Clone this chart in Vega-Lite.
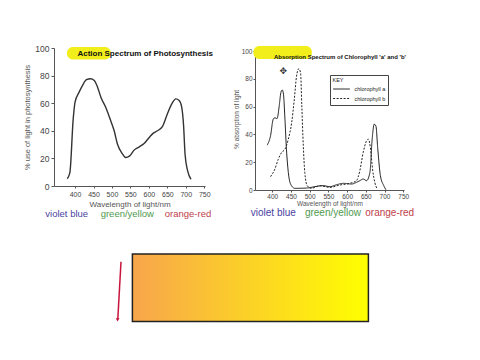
{
 "$schema": "https://vega.github.io/schema/vega-lite/v6.json",
 "background": "white",
 "padding": {"left": 23, "top": 44, "right": 5, "bottom": 5},
 "spacing": 33,
 "resolve": {"legend": {"strokeDash": "independent", "color": "independent"}},
 "config": {
  "view": {"stroke": null},
  "font": "Liberation Sans",
  "axis": {"grid": false, "domainColor": "#555", "tickColor": "#555", "labelColor": "#444", "titleColor": "#555", "titleFontWeight": "normal", "labelFont": "Liberation Sans", "titleFont": "Liberation Sans", "labelOverlap": false, "labelFlush": false}
 },
 "vconcat": [
  {
   "spacing": 20,
   "resolve": {"legend": {"strokeDash": "independent", "color": "independent"}},
   "hconcat": [
    {
     "width": 151, "height": 138,
     "encoding": {
      "x": {"field": "wl", "type": "quantitative", "scale": {"domain": [343, 752], "nice": false, "zero": false},
            "axis": {"values": [400, 450, 500, 550, 600, 650, 700, 750], "title": "Wavelength of light/nm", "labelFontSize": 7, "titleFontSize": 8, "tickSize": 2, "labelPadding": 2.5, "titlePadding": 3, "labelFlush": false}},
      "y": {"field": "pct", "type": "quantitative", "scale": {"domain": [0, 100], "nice": false},
            "axis": {"values": [0, 20, 40, 60, 80, 100], "title": "% use of light in photosynthesis", "labelFontSize": 8.5, "titleFontSize": 7.5, "tickSize": 3, "labelPadding": 2, "titlePadding": 3}}
     },
     "layer": [
      {"data": {"values": [{"wl": 378, "wl2": 497, "pct": 100.7, "pct2": 91.6}]},
       "mark": {"type": "rect", "color": "#f2ee1c", "cornerRadius": 6},
       "encoding": {"x2": {"field": "wl2"}, "y2": {"field": "pct2"}}},
      {"data": {"values": [{"wl": 590, "pct": 95.8, "t": "Action Spectrum of Photosynthesis"}]},
       "mark": {"type": "text", "fontSize": 8, "fontWeight": "bold", "color": "#111", "align": "center", "baseline": "middle"},
       "encoding": {"text": {"field": "t"}}},
      {"data": {"values": [
        {"wl": 379, "pct": 5.3}, {"wl": 386, "pct": 9.7}, {"wl": 395, "pct": 48.5}, {"wl": 400, "pct": 60.7},
        {"wl": 411, "pct": 68}, {"wl": 420, "pct": 72.8}, {"wl": 431, "pct": 77}, {"wl": 442, "pct": 77.7},
        {"wl": 452, "pct": 76.5}, {"wl": 461, "pct": 71.6}, {"wl": 470, "pct": 64.3}, {"wl": 483, "pct": 57},
        {"wl": 495, "pct": 48.5}, {"wl": 506, "pct": 40}, {"wl": 515, "pct": 30.3}, {"wl": 527, "pct": 23.8},
        {"wl": 537, "pct": 20.6}, {"wl": 548, "pct": 21.8}, {"wl": 560, "pct": 26}, {"wl": 574, "pct": 28.4},
        {"wl": 587, "pct": 30.8}, {"wl": 601, "pct": 35.2}, {"wl": 612, "pct": 38.3}, {"wl": 623, "pct": 40},
        {"wl": 637, "pct": 43.2}, {"wl": 650, "pct": 52.2}, {"wl": 662, "pct": 59.5}, {"wl": 673, "pct": 63.1},
        {"wl": 682, "pct": 61.9}, {"wl": 689, "pct": 57}, {"wl": 694, "pct": 43.7}, {"wl": 698, "pct": 23},
        {"wl": 705, "pct": 10.9}, {"wl": 714, "pct": 4.9}]},
       "mark": {"type": "line", "interpolate": "monotone", "color": "#333", "strokeWidth": 1.4},
       "encoding": {}},
      {"data": {"values": [
        {"wl": 377.4, "pct": -20, "lab": "violet blue"},
        {"wl": 541.6, "pct": -20, "lab": "green/yellow"},
        {"wl": 706, "pct": -20, "lab": "orange-red"}]},
       "mark": {"type": "text", "fontSize": 9.5, "align": "center", "baseline": "middle"},
       "encoding": {"text": {"field": "lab"},
        "color": {"field": "lab", "type": "nominal", "legend": null,
                  "scale": {"domain": ["violet blue", "green/yellow", "orange-red"], "range": ["#4a3f9f", "#4f9a4f", "#c0404a"]}}}}
     ]
    },
    {
     "width": 149, "height": 142,
     "encoding": {
      "x": {"field": "wl", "type": "quantitative", "scale": {"domain": [354, 752], "nice": false, "zero": false},
            "axis": {"values": [400, 450, 500, 550, 600, 650, 700, 750], "title": "Wavelength of light/nm", "labelFontSize": 6.5, "titleFontSize": 6.5, "tickSize": 2, "labelPadding": 1, "titlePadding": 0.5, "labelFlush": false}},
      "y": {"field": "pct", "type": "quantitative", "scale": {"domain": [0, 102.2], "nice": false},
            "axis": {"values": [0, 20, 40, 60, 80, 100], "title": "% absorption of light", "labelFontSize": 6.5, "titleFontSize": 6.5, "tickSize": 2, "labelPadding": 1, "titlePadding": 2}}
     },
     "layer": [
      {"data": {"values": [{"wl": 349.6, "wl2": 506, "pct": 103.6, "pct2": 94.2}]},
       "mark": {"type": "rect", "color": "#f2ee1c", "cornerRadius": 6},
       "encoding": {"x2": {"field": "wl2"}, "y2": {"field": "pct2"}}},
      {"data": {"values": [{"wl": 581, "pct": 95.5, "t": "Absorption Spectrum of Chlorophyll 'a' and 'b'"}]},
       "mark": {"type": "text", "fontSize": 6, "fontWeight": "bold", "color": "#111", "align": "center", "baseline": "middle"},
       "encoding": {"text": {"field": "t"}}},
      {"data": {"values": [{"wl": 429.6, "pct": 85.8, "t": "✥"}]},
       "mark": {"type": "text", "fontSize": 9, "font": "DejaVu Sans", "color": "#333", "align": "center", "baseline": "middle"},
       "encoding": {"text": {"field": "t"}}},
      {"data": {"values": [
        {"wl": 386.6, "pct": 32.3, "pigment": "chlorophyll a"}, {"wl": 395.5, "pct": 39, "pigment": "chlorophyll a"},
        {"wl": 402.7, "pct": 51, "pigment": "chlorophyll a"}, {"wl": 407, "pct": 52, "pigment": "chlorophyll a"},
        {"wl": 413, "pct": 51.4, "pigment": "chlorophyll a"}, {"wl": 418.7, "pct": 60.5, "pigment": "chlorophyll a"},
        {"wl": 423, "pct": 70, "pigment": "chlorophyll a"}, {"wl": 426.7, "pct": 72, "pigment": "chlorophyll a"},
        {"wl": 430, "pct": 69, "pigment": "chlorophyll a"}, {"wl": 434, "pct": 51, "pigment": "chlorophyll a"},
        {"wl": 438, "pct": 29.4, "pigment": "chlorophyll a"}, {"wl": 443, "pct": 12.7, "pigment": "chlorophyll a"},
        {"wl": 449, "pct": 4.3, "pigment": "chlorophyll a"}, {"wl": 460.5, "pct": 1.2, "pigment": "chlorophyll a"},
        {"wl": 491.7, "pct": 1.4, "pigment": "chlorophyll a"}, {"wl": 518, "pct": 2.6, "pigment": "chlorophyll a"},
        {"wl": 536, "pct": 3.1, "pigment": "chlorophyll a"}, {"wl": 554, "pct": 2.4, "pigment": "chlorophyll a"},
        {"wl": 572, "pct": 3.8, "pigment": "chlorophyll a"}, {"wl": 590, "pct": 4.8, "pigment": "chlorophyll a"},
        {"wl": 612, "pct": 4.3, "pigment": "chlorophyll a"}, {"wl": 625, "pct": 5.5, "pigment": "chlorophyll a"},
        {"wl": 634, "pct": 6.7, "pigment": "chlorophyll a"}, {"wl": 643, "pct": 7.9, "pigment": "chlorophyll a"},
        {"wl": 652, "pct": 6.7, "pigment": "chlorophyll a"}, {"wl": 661, "pct": 12.7, "pigment": "chlorophyll a"},
        {"wl": 667, "pct": 36.6, "pigment": "chlorophyll a"}, {"wl": 672.5, "pct": 47.4, "pigment": "chlorophyll a"},
        {"wl": 677, "pct": 46, "pigment": "chlorophyll a"}, {"wl": 682, "pct": 29.4, "pigment": "chlorophyll a"},
        {"wl": 689, "pct": 10.3, "pigment": "chlorophyll a"}, {"wl": 698, "pct": 3.1, "pigment": "chlorophyll a"},
        {"wl": 703.6, "pct": 0.2, "pigment": "chlorophyll a"},
        {"wl": 395.5, "pct": 9.6, "pigment": "chlorophyll b"}, {"wl": 407, "pct": 15, "pigment": "chlorophyll b"},
        {"wl": 416, "pct": 22, "pigment": "chlorophyll b"}, {"wl": 425, "pct": 27, "pigment": "chlorophyll b"},
        {"wl": 434, "pct": 29.4, "pigment": "chlorophyll b"}, {"wl": 443, "pct": 36.6, "pigment": "chlorophyll b"},
        {"wl": 452, "pct": 48.6, "pigment": "chlorophyll b"}, {"wl": 459, "pct": 65.3, "pigment": "chlorophyll b"},
        {"wl": 465, "pct": 82, "pigment": "chlorophyll b"}, {"wl": 471, "pct": 87.3, "pigment": "chlorophyll b"},
        {"wl": 475.7, "pct": 84.4, "pigment": "chlorophyll b"}, {"wl": 479, "pct": 60.5, "pigment": "chlorophyll b"},
        {"wl": 483, "pct": 31.8, "pigment": "chlorophyll b"}, {"wl": 487, "pct": 12.7, "pigment": "chlorophyll b"},
        {"wl": 493.5, "pct": 3.1, "pigment": "chlorophyll b"}, {"wl": 505, "pct": 1.2, "pigment": "chlorophyll b"},
        {"wl": 527, "pct": 3.1, "pigment": "chlorophyll b"}, {"wl": 554, "pct": 1.9, "pigment": "chlorophyll b"},
        {"wl": 581, "pct": 3.6, "pigment": "chlorophyll b"}, {"wl": 607.5, "pct": 4.8, "pigment": "chlorophyll b"},
        {"wl": 625, "pct": 6.7, "pigment": "chlorophyll b"}, {"wl": 634, "pct": 13.9, "pigment": "chlorophyll b"},
        {"wl": 643, "pct": 27, "pigment": "chlorophyll b"}, {"wl": 652, "pct": 35.4, "pigment": "chlorophyll b"},
        {"wl": 657, "pct": 36.6, "pigment": "chlorophyll b"}, {"wl": 662.7, "pct": 29.4, "pigment": "chlorophyll b"},
        {"wl": 668, "pct": 15, "pigment": "chlorophyll b"}, {"wl": 674, "pct": 5.5, "pigment": "chlorophyll b"},
        {"wl": 680.5, "pct": 0.7, "pigment": "chlorophyll b"}]},
       "mark": {"type": "line", "interpolate": "monotone", "color": "#222", "strokeWidth": 1},
       "encoding": {
        "strokeDash": {"field": "pigment", "type": "nominal",
          "scale": {"domain": ["chlorophyll a", "chlorophyll b"], "range": [[1, 0], [2, 1.5]]},
          "legend": {"title": "KEY", "orient": "none", "legendX": 75, "legendY": 27, "titleFontSize": 5.5, "titleFontWeight": "normal",
                     "labelFontSize": 5.5, "strokeColor": "#444", "padding": 2.5, "symbolType": "M-2,0H2", "symbolStrokeWidth": 1,
                     "symbolSize": 70, "labelColor": "#222", "titleColor": "#222", "rowPadding": 0.5, "titlePadding": 1, "labelOffset": 8, "symbolOffset": 4}}}},
      {"data": {"values": [
        {"wl": 402.9, "pct": -16.5, "lab": "violet blue"},
        {"wl": 562.3, "pct": -16.5, "lab": "green/yellow"},
        {"wl": 713.8, "pct": -16.5, "lab": "orange-red"}]},
       "mark": {"type": "text", "fontSize": 10, "align": "center", "baseline": "middle"},
       "encoding": {"text": {"field": "lab"},
        "color": {"field": "lab", "type": "nominal", "legend": null,
                  "scale": {"domain": ["violet blue", "green/yellow", "orange-red"], "range": ["#4a3f9f", "#4f9a4f", "#c0404a"]}}}}
     ]
    }
   ]
  },
  {
   "width": 400, "height": 75,
   "encoding": {
    "x": {"field": "bx", "type": "quantitative", "scale": {"domain": [0, 100], "nice": false}, "axis": null},
    "y": {"field": "by", "type": "quantitative", "scale": {"domain": [0, 100], "nice": false}, "axis": null}
   },
   "layer": [
    {"data": {"values": [{"bx": 19.6, "bx2": 78.6, "by": 97.5, "by2": 7.5}]},
     "mark": {"type": "rect", "fill": {"gradient": "linear", "x1": 0, "x2": 1, "y1": 0, "y2": 0, "stops": [{"offset": 0, "color": "#f8a54c"}, {"offset": 1, "color": "#ffff00"}]}, "stroke": "#222", "strokeWidth": 1.5},
     "encoding": {"x2": {"field": "bx2"}, "y2": {"field": "by2"}}},
    {"data": {"values": [{"bx": 16.75, "by": 87, "bx2": 15.95, "by2": 10.5}]},
     "mark": {"type": "rule", "color": "#c8143c", "strokeWidth": 1.5},
     "encoding": {"x2": {"field": "bx2"}, "y2": {"field": "by2"}}},
    {"data": {"values": [{"bx": 15.9, "by": 9.5}]},
     "mark": {"type": "point", "shape": "triangle-down", "filled": true, "color": "#c8143c", "size": 14, "opacity": 1},
     "encoding": {}}
   ]
  }
 ]
}
